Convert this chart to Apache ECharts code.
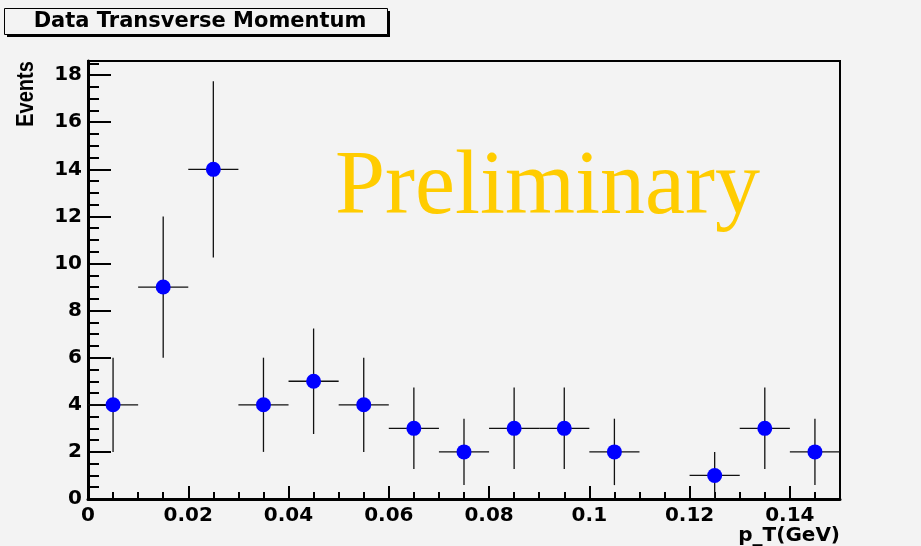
<!DOCTYPE html>
<html><head><meta charset="utf-8">
<script src="https://cdn.jsdelivr.net/npm/echarts@6/dist/echarts.min.js"></script>
<style>html,body{margin:0;padding:0;background:#f3f3f3}#c{width:921px;height:546px}</style>
</head><body><div id="c"></div>
<script>
// Histogram bin centres (p_T in GeV), counts and statistical errors
const binCenters = [0.005, 0.015, 0.025, 0.035, 0.045, 0.055, 0.065, 0.075, 0.085, 0.095, 0.105, 0.125, 0.135, 0.145];
const events     = [4, 9, 14, 4, 5, 4, 3, 2, 3, 3, 2, 1, 3, 2];
const errors     = [2, 3, 3.74, 2, 2.24, 2, 1.73, 1.41, 1.73, 1.73, 1.41, 1, 1.73, 1.41];
const binHalfWidth = 0.005;
const xRange = [0, 0.15];
const yRange = [0, 18.6];
const titleText = 'Data Transverse Momentum';
const xTitle = 'p_T(GeV)';
const yTitle = 'Events';
const watermark = 'Preliminary';

const chart = echarts.init(document.getElementById('c'), null, {renderer: 'canvas'});
const BG = '#f3f3f3';
const labelFont = {color: '#000', fontFamily: 'DejaVu Sans', fontWeight: 'bold', fontSize: 20};

const points = binCenters.map((x, i) => [x, events[i], errors[i]]);

const option = {
  backgroundColor: BG,
  animation: false,
  grid: {left: 88, right: 81, top: 61, bottom: 47, show: true, borderColor: '#000', borderWidth: 2, backgroundColor: 'transparent'},
  xAxis: [
    {type: 'value', min: xRange[0], max: xRange[1], interval: 0.02, position: 'bottom',
     axisLine: {lineStyle: {color: '#000', width: 3}},
     axisTick: {inside: true, length: 13, lineStyle: {color: '#000', width: 2}},
     axisLabel: Object.assign({margin: 7, showMaxLabel: false}, labelFont),
     splitLine: {show: false}},
    {type: 'value', min: xRange[0], max: xRange[1], interval: 0.005, position: 'bottom',
     axisLine: {show: false},
     axisTick: {inside: true, length: 7, lineStyle: {color: '#000', width: 2}},
     axisLabel: {show: false}, splitLine: {show: false}}
  ],
  yAxis: [
    {type: 'value', min: yRange[0], max: yRange[1], interval: 2, position: 'left',
     axisLine: {show: true, lineStyle: {color: '#000', width: 3}},
     axisTick: {show: true, inside: true, length: 23, lineStyle: {color: '#000', width: 2}},
     axisLabel: Object.assign({margin: 6, showMaxLabel: false}, labelFont),
     splitLine: {show: false}},
    {type: 'value', min: yRange[0], max: yRange[1], interval: 0.5, position: 'left',
     axisLine: {show: false},
     axisTick: {show: true, inside: true, length: 11, lineStyle: {color: '#000', width: 2}},
     axisLabel: {show: false}, splitLine: {show: false}}
  ],
  series: [
    {type: 'custom', xAxisIndex: 0, yAxisIndex: 0, data: points, z: 2,
     renderItem: function (params, api) {
       const x = api.value(0), y = api.value(1), e = api.value(2);
       const l = api.coord([x - binHalfWidth, y]), r = api.coord([x + binHalfWidth, y]);
       const t = api.coord([x, y + e]), b = api.coord([x, y - e]);
       const st = {stroke: '#111', lineWidth: 1.3};
       return {type: 'group', children: [
         {type: 'line', shape: {x1: l[0], y1: l[1], x2: r[0], y2: r[1]}, style: st},
         {type: 'line', shape: {x1: t[0], y1: t[1], x2: b[0], y2: b[1]}, style: st}
       ]};
     }},
    {type: 'scatter', xAxisIndex: 0, yAxisIndex: 0, z: 3,
     data: points.map(p => [p[0], p[1]]),
     symbol: 'circle', symbolSize: 15, itemStyle: {color: '#0000ff', opacity: 1}}
  ],
  graphic: [
    {type: 'rect', left: 7, top: 11, shape: {width: 383, height: 26}, style: {fill: '#000'}, z: 10},
    {type: 'rect', left: 4, top: 8, shape: {width: 383, height: 26}, style: {fill: BG, stroke: '#000', lineWidth: 1}, z: 11},
    {type: 'text', x: 200, y: 22, z: 12,
     style: {text: titleText, fill: '#000', font: 'bold 21px "DejaVu Sans"', align: 'center', verticalAlign: 'middle'}},
    {type: 'text', x: 27, y: 94, rotation: Math.PI / 2, scaleY: 1.15, z: 12,
     style: {text: yTitle, fill: '#000', font: 'bold 20px "Liberation Sans"', align: 'center', verticalAlign: 'middle'}},
    {type: 'text', x: 840, y: 536, z: 12,
     style: {text: xTitle, fill: '#000', font: 'bold 20px "DejaVu Sans"', align: 'right', verticalAlign: 'middle'}},
    {type: 'text', x: 335, y: 189, z: 1,
     style: {text: watermark, fill: '#ffcc00', font: '90px "Liberation Serif"', align: 'left', verticalAlign: 'middle'}}
  ]
};
chart.setOption(option);
</script></body></html>
